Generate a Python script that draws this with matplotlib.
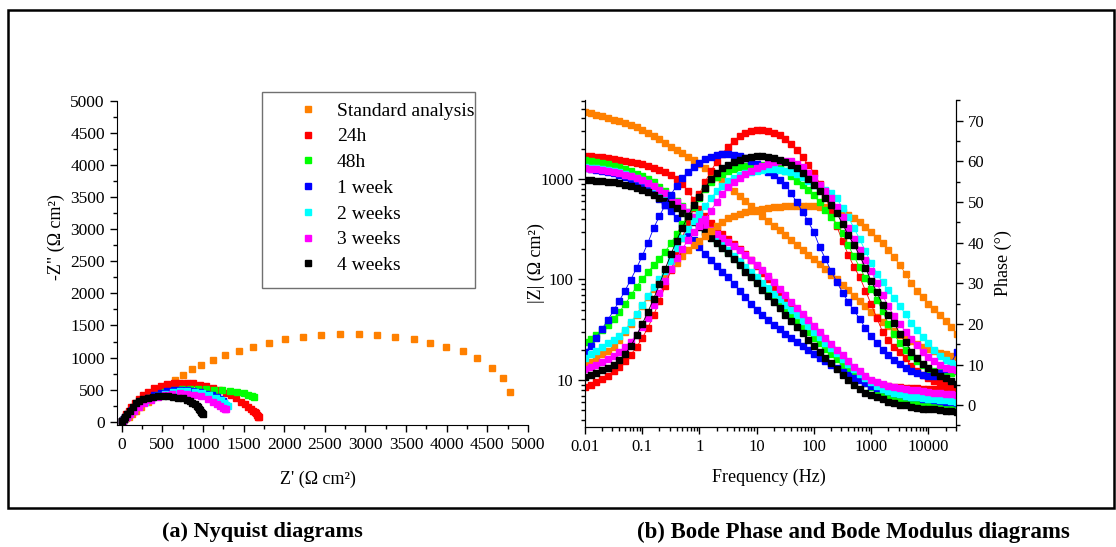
import numpy as np
import matplotlib
matplotlib.use("Agg")
import matplotlib.pyplot as plt
from matplotlib.ticker import MultipleLocator, FuncFormatter, NullFormatter
from matplotlib.patches import Rectangle

plt.rcParams['font.family'] = 'Liberation Serif'

labels = ["Standard analysis", "24h", "48h", "1 week", "2 weeks", "3 weeks", "4 weeks"]
colors = ["#ff8000", "#ff0000", "#00ff00", "#0000ff", "#00ffff", "#ff00ff", "#000000"]

# ---- Nyquist data: Z' and -Z'' (ohm cm2) ----
orange_zr = [10, 20, 35, 55, 85, 125, 175, 240, 320, 405, 488, 560, 652, 755, 870, 981, 1124, 1276, 1440, 1616,
             1809, 2014, 2232, 2457, 2683, 2917, 3143, 3368, 3598, 3799, 3996, 4201, 4373, 4560, 4690, 4780]
orange_zi = [8, 18, 32, 52, 82, 122, 172, 235, 310, 400, 494, 572, 650, 727, 816, 883, 961, 1039, 1106, 1168,
             1231, 1283, 1319, 1346, 1366, 1361, 1350, 1319, 1283, 1231, 1159, 1106, 988, 830, 680, 470]
red_zr = [3, 8, 15, 25, 40, 60, 85, 120, 165, 215, 262, 320, 400, 480, 560, 640, 720, 800, 880, 960,
          1040, 1120, 1200, 1280, 1350, 1412, 1470, 1520, 1554, 1590, 1616, 1636, 1650, 1662, 1672, 1680, 1686]
red_zi = [5, 14, 28, 48, 80, 120, 170, 230, 295, 360, 416, 470, 525, 565, 590, 605, 610, 608, 598, 580,
          556, 528, 495, 455, 410, 364, 315, 270, 234, 200, 175, 150, 130, 112, 95, 80, 68]
green_zr = [8, 20, 35, 55, 90, 140, 200, 270, 350, 440, 540, 640, 740, 840, 940, 1040, 1140, 1240, 1330, 1420,
            1500, 1560, 1600, 1625]
green_zi = [10, 25, 45, 68, 115, 175, 240, 310, 370, 420, 460, 490, 505, 510, 508, 504, 500, 492, 483, 465,
            445, 420, 400, 388]
blue_zr = [6, 15, 28, 45, 80, 125, 180, 245, 320, 400, 480, 560, 640, 720, 800, 880, 960, 1040, 1110, 1170,
           1215, 1245, 1262]
blue_zi = [10, 25, 45, 70, 120, 180, 245, 310, 370, 420, 455, 478, 490, 492, 488, 478, 462, 440, 412, 385,
           355, 325, 300]
cyan_zr = [6, 15, 35, 65, 105, 155, 215, 285, 365, 450, 540, 630, 720, 810, 900, 990, 1080, 1160, 1220, 1265,
           1290, 1305]
cyan_zi = [8, 20, 45, 85, 135, 190, 250, 310, 360, 405, 440, 462, 472, 472, 462, 442, 412, 375, 335, 295,
           262, 240]
magenta_zr = [6, 15, 35, 62, 100, 150, 210, 280, 360, 445, 535, 625, 715, 805, 895, 980, 1060, 1120, 1170, 1215,
              1250, 1275, 1290]
magenta_zi = [6, 15, 38, 70, 115, 170, 230, 290, 340, 385, 418, 438, 445, 440, 425, 395, 355, 315, 275, 245,
              222, 205, 195]
black_zr = [5, 10, 25, 45, 70, 100, 135, 181, 220, 262, 320, 386, 450, 509, 570, 632, 695, 755, 800, 837,
            870, 899, 922, 939, 955, 968, 981, 992, 1001]
black_zi = [6, 15, 40, 75, 120, 170, 225, 286, 320, 349, 375, 390, 398, 400, 397, 390, 378, 364, 345, 322,
            298, 276, 250, 224, 200, 178, 156, 138, 120]

# ---- Bode data: 10 points per decade, 0.01 Hz ... ~31.6 kHz ----
freq = np.logspace(-2, 4.5, 66)

orange_mod = [4677, 4519, 4365, 4217, 4074, 3890, 3733, 3573, 3412, 3251, 3090, 2884, 2692, 2483, 2291, 2089, 1936,
              1791, 1660, 1531, 1413, 1282, 1161, 1047, 944, 851, 759, 676, 603, 537, 479, 429, 384, 344, 308, 275,
              247, 221, 198, 177, 158, 141, 126, 112, 100, 89.1, 78.5, 69.2, 61.1, 54.1, 47.9, 42.7, 38.0, 34.3,
              30.9, 28.2, 26.0, 24.3, 22.8, 21.5, 20.4, 19.5, 18.7, 18.1, 17.5, 17.0]
red_mod = [1698, 1683, 1663, 1641, 1614, 1585, 1549, 1514, 1479, 1439, 1396, 1349, 1297, 1239, 1169, 1096, 1000,
           891, 759, 624, 501, 427, 367, 320, 282, 251, 224, 200, 178, 157, 135, 116, 100, 85.1, 73.3, 63.1, 55.0,
           47.9, 41.7, 36.3, 31.6, 27.5, 23.7, 20.4, 17.8, 15.5, 13.6, 12.3, 11.2, 10.4, 9.8, 9.3, 9.0, 8.8, 8.6,
           8.5, 8.4, 8.3, 8.3, 8.2, 8.2, 8.2, 8.1, 8.1, 8.1, 8.1]
green_mod = [1549, 1514, 1476, 1435, 1393, 1349, 1300, 1247, 1191, 1132, 1072, 1000, 923, 841, 762, 684, 608, 537,
             473, 415, 363, 318, 278, 243, 213, 186, 163, 143, 125, 109, 95.5, 83.9, 73.8, 64.9, 57.0, 50.1, 44.1,
             38.7, 34.0, 29.9, 26.3, 23.2, 20.4, 18.0, 16.0, 14.2, 12.7, 11.4, 10.3, 9.3, 8.6, 7.9, 7.4, 7.0, 6.6,
             6.4, 6.2, 6.0, 5.9, 5.8, 5.7, 5.6, 5.6, 5.5, 5.5, 5.4]
blue_mod = [1274, 1253, 1230, 1202, 1169, 1135, 1096, 1052, 1000, 944, 881, 804, 724, 638, 556, 479, 407, 343, 288,
            245, 209, 180, 157, 136, 119, 105, 90.2, 77.6, 66.8, 57.5, 50.1, 44.2, 39.4, 35.3, 31.8, 28.8, 26.2,
            23.8, 21.7, 19.9, 18.2, 16.7, 15.4, 14.2, 13.1, 12.1, 11.3, 10.5, 9.9, 9.3, 8.8, 8.4, 8.1, 7.7, 7.5,
            7.2, 7.0, 6.8, 6.7, 6.5, 6.4, 6.3, 6.2, 6.1, 6.0, 5.9]
cyan_mod = [1318, 1297, 1274, 1250, 1225, 1197, 1161, 1122, 1076, 1023, 966, 902, 832, 759, 692, 624, 560, 501, 447,
            398, 355, 315, 279, 248, 220, 195, 172, 152, 134, 119, 105, 92.5, 81.7, 72.1, 63.7, 56.2, 49.7, 43.9,
            38.7, 34.2, 30.2, 26.7, 23.6, 20.8, 18.4, 16.3, 14.5, 12.9, 11.6, 10.5, 9.5, 8.8, 8.2, 7.8, 7.4, 7.2,
            7.0, 6.8, 6.7, 6.6, 6.5, 6.4, 6.3, 6.3, 6.2, 6.1]
magenta_mod = [1288, 1268, 1245, 1222, 1199, 1175, 1140, 1102, 1059, 1014, 966, 912, 851, 785, 724, 661, 596, 531,
               473, 422, 378, 343, 313, 285, 260, 237, 216, 195, 176, 157, 140, 123, 108, 94.4, 81.3, 70.0, 60.3,
               52.5, 45.7, 39.8, 34.7, 30.2, 26.3, 22.9, 20.0, 17.6, 15.5, 13.6, 12.2, 11.0, 10.1, 9.5, 9.1, 8.7,
               8.5, 8.3, 8.1, 8.0, 7.9, 7.7, 7.6, 7.5, 7.4, 7.3, 7.2, 7.1]
black_mod = [977, 971, 962, 951, 938, 923, 902, 877, 845, 813, 776, 735, 692, 649, 605, 562, 509, 459, 412, 370,
             331, 294, 261, 231, 205, 182, 158, 138, 120, 105, 91.2, 79.1, 68.5, 59.4, 51.5, 44.7, 38.7, 33.6,
             29.1, 25.2, 21.9, 19.1, 16.6, 14.6, 12.8, 11.2, 10.0, 8.9, 8.1, 7.5, 7.1, 6.7, 6.4, 6.1, 5.9, 5.7,
             5.6, 5.4, 5.3, 5.2, 5.1, 5.1, 5.0, 4.9, 4.9, 4.8]

orange_ph = [10, 10.7, 11.5, 12.5, 13.3, 14.3, 16.1, 18, 20, 22.2, 24.5, 26.5, 28.5, 30.3, 32, 33.5, 35.1, 36.7,
             38.2, 39.4, 40.5, 41.7, 42.9, 44, 45.1, 46, 46.6, 47.1, 47.5, 47.8, 48.1, 48.3, 48.5, 48.7, 48.8, 48.9,
             49, 49, 49, 49, 49, 48.8, 48.7, 48.4, 48, 47.5, 46.8, 46, 45, 43.8, 42.5, 41.2, 39.8, 38.1, 36.4, 34.5,
             32.3, 30.1, 28.1, 26.5, 25, 23.6, 22.2, 20.8, 19.2, 17.5]
red_ph = [4.5, 5.0, 5.6, 6.4, 7.3, 8.3, 9.5, 10.8, 12.4, 14.3, 16.5, 19.1, 22.2, 25.6, 29.3, 33.2, 37.2, 41.2, 45,
          48.6, 52, 55, 57.6, 59.9, 61.9, 63.6, 65, 66.2, 67, 67.5, 67.7, 67.7, 67.4, 67, 66.4, 65.5, 64.2, 62.8,
          61.0, 59.2, 57.2, 54.5, 51.3, 47.8, 44, 40.3, 37, 34, 31.5, 28.2, 24.8, 21.4, 18, 16, 14.2, 13.2, 11.6,
          9.6, 8.5, 7.5, 6.7, 6.0, 5.6, 5.3, 5.1, 4.9]
green_ph = [15.5, 16.2, 17.2, 18.4, 19.8, 21.3, 23.0, 24.8, 27.0, 29.2, 31.0, 32.8, 34.4, 36.0, 37.8, 39.8, 42.2,
            44.5, 46.6, 48.7, 51.0, 53.3, 55.0, 56.2, 57.0, 57.6, 58.1, 58.5, 58.8, 59.0, 59.1, 59.1, 59.0, 58.7,
            58.3, 57.6, 56.3, 55.2, 54.2, 52.9, 51.6, 49.9, 48.0, 46.2, 44.4, 42.4, 39.3, 36.6, 33.9, 31.2, 28.7,
            26.0, 23.1, 20.0, 17.4, 15.3, 13.5, 12.1, 10.9, 9.9, 9.0, 8.5, 8.1, 7.9, 7.9, 8.3]
blue_ph = [13.0, 14.6, 16.6, 18.8, 21.0, 23.3, 25.7, 28.2, 30.9, 33.7, 36.7, 40.0, 43.6, 46.5, 49.3, 51.8, 54.0,
           55.9, 57.4, 58.7, 59.6, 60.5, 61.1, 61.5, 61.7, 61.7, 61.6, 61.3, 60.8, 60.1, 59.3, 58.4, 57.4, 56.6,
           55.5, 54.2, 52.2, 49.9, 47.6, 45.2, 42.5, 38.9, 36.0, 33.0, 30.3, 27.7, 25.3, 23.3, 21.2, 18.9, 17.0,
           15.3, 13.7, 12.3, 11.1, 10.1, 9.2, 8.5, 7.9, 7.5, 7.3, 7.3, 7.8, 8.8, 10.5, 13.0]
cyan_ph = [11.5, 12.5, 13.4, 14.3, 15.2, 16.1, 17.1, 18.6, 20.4, 22.4, 24.6, 26.8, 29.0, 31.0, 32.9, 35.5, 38.8,
           41.2, 43.3, 45.2, 47.0, 49.0, 50.9, 52.6, 54.0, 55.2, 56.0, 56.7, 57.2, 57.5, 57.7, 57.9, 58.0, 58.0,
           57.9, 57.7, 57.3, 56.8, 56.1, 55.2, 54.2, 53.6, 53.0, 52.2, 50.9, 48.5, 46.2, 43.6, 40.8, 37.9, 35.0,
           32.4, 30.2, 28.3, 26.3, 24.4, 22.4, 20.3, 18.4, 16.8, 15.2, 13.5, 12.2, 11.2, 10.4, 9.9]
magenta_ph = [8.8, 9.3, 9.9, 10.6, 11.4, 12.2, 13.0, 14.2, 15.6, 17.3, 19.2, 21.5, 24.6, 27.6, 30.6, 33.4, 36.1,
              38.5, 40.6, 42.5, 44.2, 45.8, 47.9, 50.0, 52.0, 53.7, 55.0, 56.0, 57.0, 57.7, 58.3, 58.9, 59.4, 59.8,
              60.1, 60.2, 60.0, 59.4, 58.5, 57.2, 55.8, 54.3, 52.7, 50.9, 48.8, 46.3, 43.5, 40.8, 38.3, 35.7, 33.0,
              30.0, 27.0, 24.3, 22.0, 20.0, 18.1, 16.3, 14.7, 13.2, 11.9, 10.8, 9.9, 9.2, 8.8, 8.7]
black_ph = [7.0, 7.5, 8.0, 8.6, 9.1, 9.8, 11.0, 12.6, 14.5, 17.2, 20.0, 23.0, 26.2, 29.8, 33.5, 37.1, 40.5, 43.6,
            46.5, 49.2, 51.3, 53.5, 55.6, 57.2, 58.4, 59.2, 59.9, 60.4, 60.8, 61.1, 61.2, 61.2, 61.1, 60.8, 60.4,
            59.8, 59.2, 58.4, 57.1, 55.7, 54.3, 52.7, 51.0, 49.2, 47.2, 44.6, 41.8, 39.5, 36.7, 33.8, 30.5, 27.8,
            24.7, 22.2, 20.2, 17.6, 15.5, 13.2, 11.6, 10.2, 9.1, 8.1, 7.3, 6.6, 6.0, 5.3]

nyq = [(orange_zr, orange_zi), (red_zr, red_zi), (green_zr, green_zi), (blue_zr, blue_zi),
       (cyan_zr, cyan_zi), (magenta_zr, magenta_zi), (black_zr, black_zi)]
mods = [orange_mod, red_mod, green_mod, blue_mod, cyan_mod, magenta_mod, black_mod]
phases = [orange_ph, red_ph, green_ph, blue_ph, cyan_ph, magenta_ph, black_ph]

fig = plt.figure(figsize=(11.16, 5.47), dpi=100)

# (a) Nyquist
ax_n = fig.add_axes([0.1046, 0.223, 0.3685, 0.593])
for (zr, zi), c, lab in zip(nyq, colors, labels):
    ax_n.plot(zr, zi, 's', ls='none', color=c, ms=4, label=lab)
ax_n.set_xlim(-60, 5000)
ax_n.set_ylim(-50, 5000)
ax_n.xaxis.set_major_locator(MultipleLocator(500))
ax_n.xaxis.set_minor_locator(MultipleLocator(250))
ax_n.yaxis.set_major_locator(MultipleLocator(500))
ax_n.yaxis.set_minor_locator(MultipleLocator(250))
ax_n.spines['top'].set_visible(False)
ax_n.spines['right'].set_visible(False)
ax_n.tick_params(which='major', direction='out', length=5, width=1, labelsize=12.5)
ax_n.tick_params(which='minor', direction='out', length=3, width=1)
ax_n.set_xlabel("Z' (Ω cm²)", fontsize=13)
ax_n.set_ylabel('-Z" (Ω cm²)', fontsize=13)
ax_n.xaxis.set_label_coords(0.49, -0.142)
ax_n.yaxis.set_label_coords(-0.125, 0.58)

ax_n.legend(loc='upper left', bbox_to_anchor=(0.441, 0.996), frameon=False, fontsize=14,
            handlelength=1.0, handletextpad=1.0, labelspacing=0.42, borderaxespad=0, borderpad=0,
            markerscale=1.2)
ax_n.add_patch(Rectangle((0.353, 0.4224), 0.518, 0.6046, transform=ax_n.transAxes, fill=False,
                         ec='#707070', lw=1, clip_on=False))

# (b) Bode
ax_b = fig.add_axes([0.5242, 0.2199, 0.3322, 0.5973])
for mod, c in zip(mods, colors):
    ax_b.plot(freq, mod, 's-', color=c, ms=4.3, lw=0.6)
ax_b.set_xscale('log')
ax_b.set_yscale('log')
ax_b.set_xlim(0.01, 3.0e4)
ax_b.set_ylim(3.43, 6100)
fmt = FuncFormatter(lambda v, p: f'{v:g}')
ax_b.xaxis.set_major_formatter(fmt)
ax_b.yaxis.set_major_formatter(fmt)
ax_b.xaxis.set_minor_formatter(NullFormatter())
ax_b.yaxis.set_minor_formatter(NullFormatter())
ax_b.spines['top'].set_visible(False)
ax_b.tick_params(which='major', direction='out', length=5, width=1, labelsize=12)
ax_b.tick_params(which='minor', direction='out', length=3, width=1)
ax_b.set_xlabel('Frequency (Hz)', fontsize=13)
ax_b.set_ylabel('|Z| (Ω cm²)', fontsize=13)
ax_b.xaxis.set_label_coords(0.496, -0.129)
ax_b.yaxis.set_label_coords(-0.108, 0.5)

ax_p = ax_b.twinx()
for ph, c in zip(phases, colors):
    ax_p.plot(freq, ph, 's-', color=c, ms=4.3, lw=0.6)
ax_p.set_ylim(-5.3, 75.1)
ax_p.yaxis.set_major_locator(MultipleLocator(10))
ax_p.yaxis.set_minor_locator(MultipleLocator(5))
ax_p.spines['top'].set_visible(False)
ax_p.tick_params(which='major', direction='out', length=5, width=1, labelsize=12)
ax_p.tick_params(which='minor', direction='out', length=3, width=1)
ax_p.set_ylabel('Phase (°)', fontsize=13)
ax_p.yaxis.set_label_coords(1.106, 0.5)

# captions and outer frame
fig.text(262 / 1116, 1 - 532 / 547, '(a) Nyquist diagrams', ha='center', va='center',
         fontsize=16, fontweight='bold')
fig.text(853 / 1116, 1 - 532 / 547, '(b) Bode Phase and Bode Modulus diagrams', ha='center', va='center',
         fontsize=16.5, fontweight='bold')
fig.add_artist(Rectangle((8 / 1116, 1 - 508 / 547), 1106 / 1116, 498 / 547, transform=fig.transFigure,
                         fill=False, ec='black', lw=1.8))

fig.savefig('out.png', dpi=100)
